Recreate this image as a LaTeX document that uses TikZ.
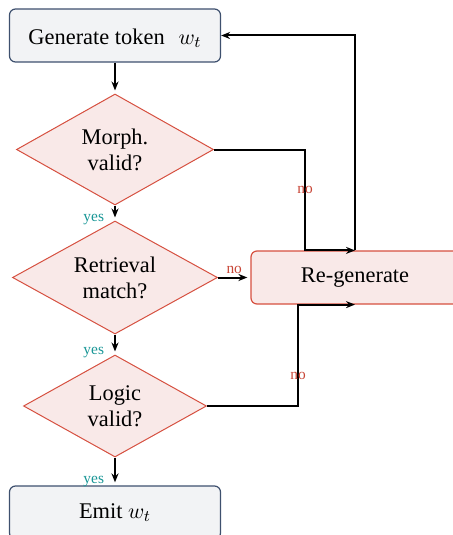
\documentclass[tikz,border=0pt]{standalone}
\usepackage{fontspec}
\setmainfont{Liberation Serif}
\usetikzlibrary{shapes.geometric,arrows.meta,calc}

\definecolor{boxfill}{RGB}{242,243,245}
\definecolor{boxline}{RGB}{62,80,110}
\definecolor{chkfill}{RGB}{249,233,232}
\definecolor{chkline}{RGB}{214,80,64}
\definecolor{yescol}{RGB}{24,150,150}
\definecolor{nocol}{RGB}{200,70,55}

\begin{document}
\begin{tikzpicture}[x=0.5pt,y=-0.5pt,
  font=\fontsize{11.2}{13}\selectfont,
  stepbox/.style={rectangle, rounded corners=3pt, draw=boxline, fill=boxfill, line width=0.6pt, minimum width=105.5pt, minimum height=26.5pt, inner sep=0pt},
  redobox/.style={stepbox, draw=chkline, fill=chkfill, minimum width=104pt},
  check/.style={diamond, aspect=1.8, draw=chkline, fill=chkfill, line width=0.5pt, inner sep=0pt, align=center},
  flow/.style={-{Stealth[length=4.5pt,width=3.5pt]}, line width=1pt, shorten >=1.5pt},
  back/.style={-{Stealth[length=4.5pt,width=3.5pt]}, line width=1pt},
  yeslabel/.style={text=yescol, font=\fontsize{7.7}{9}\selectfont, left=5pt, inner sep=0pt, pos=0.75, yshift=-1.5pt},
  nolabel/.style={text=nocol, font=\fontsize{7.7}{9}\selectfont, inner sep=0pt}]
\useasboundingbox (0,0) rectangle (453,535);

\node[stepbox, text height=10.5pt, text depth=1.5pt] (gen) at (115,35.5) {Generate token\hskip7pt$w_t$};
\node[check, minimum width=98.5pt, minimum height=55.5pt] (morph) at (115,149.5) {Morph.\\valid?};
\node[check, minimum width=102.5pt, minimum height=56.5pt] (retr) at (115,277.5) {Retrieval\\match?};
\node[check, minimum width=91.5pt, minimum height=51pt] (logic) at (115,406) {Logic\\valid?};
\node[stepbox] (emit) at (115,512.5) {Emit $w_t$};
\node[redobox] (regen) at (355,277.5) {Re-generate};

\draw[flow] (gen) -- (morph);
\draw[flow] (morph) -- node[yeslabel]{yes} (retr);
\draw[flow] (retr) -- node[yeslabel]{yes} (logic);
\draw[flow] (logic) -- node[yeslabel]{yes} (emit);
\draw[flow] (retr) -- node[nolabel, above=1.5pt]{no} (regen);
\draw[back] (morph.east) -| node[nolabel, pos=0.7]{no} ($(regen.north)+(-50,0)$) -- (regen.north);
\draw[back] (logic.east) -| node[nolabel, pos=0.65]{no} ($(regen.south)+(-57,0)$) -- (regen.south);
\draw[back] (regen.north) |- (gen.east);
\end{tikzpicture}
\end{document}
